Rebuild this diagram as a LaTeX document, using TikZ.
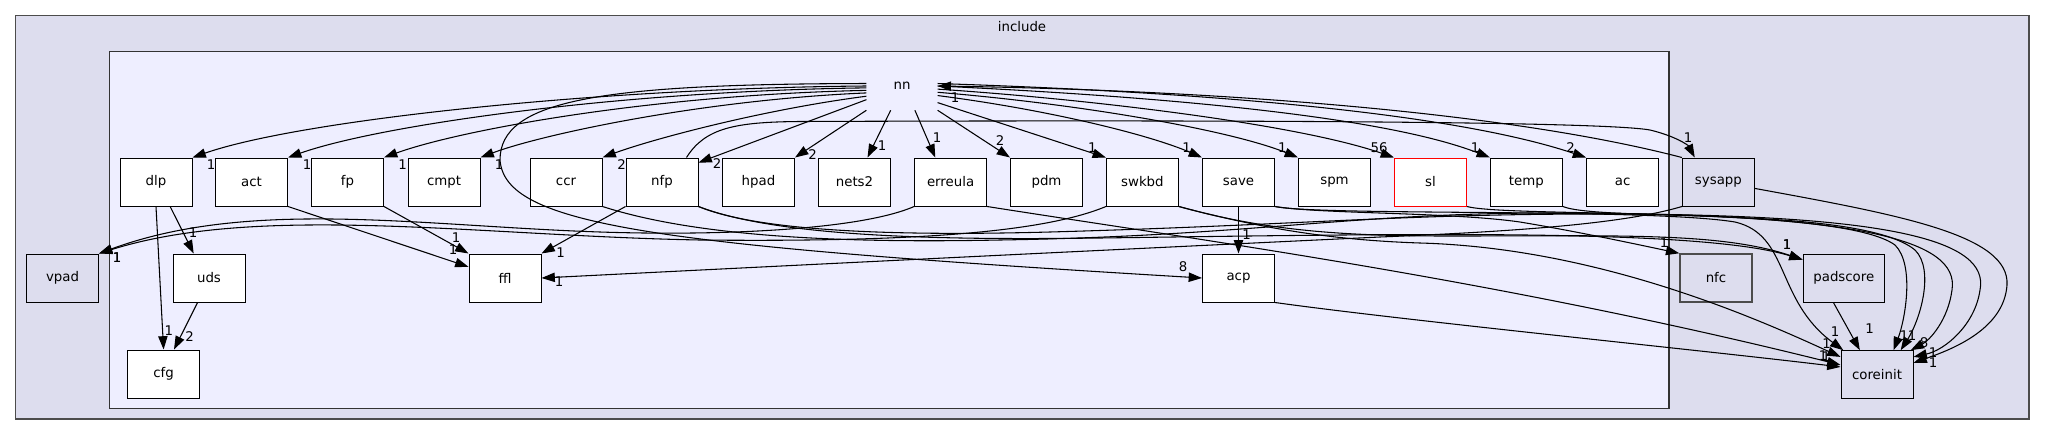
\documentclass[tikz,border=0pt]{standalone}
\usepackage{fontspec}
\setmainfont{DejaVu Sans}
\usepackage{xcolor}
\usetikzlibrary{arrows.meta}
\definecolor{outerfill}{HTML}{DDDDEE}
\definecolor{innerfill}{HTML}{EEEEFF}

\begin{document}
\begin{tikzpicture}[x=0.75pt, y=-0.75pt,
    dnode/.style={draw, fill=white, line width=0.75pt, minimum width=54pt, minimum height=36pt, inner sep=0pt, font=\fontsize{10}{12}\selectfont},
    xnode/.style={dnode, fill=outerfill},
    dep/.style={-{Triangle[length=10pt, width=7pt]}, line width=0.8pt},
    lbl/.style={inner sep=0pt, font=\fontsize{10}{12}\selectfont}
]
\useasboundingbox (0,0) rectangle (2045,436);
% clusters
\draw[fill=outerfill, draw=black!70, line width=1pt] (15.6,15.7) rectangle (2029,419);
\node[lbl] at (1022,27) {include};
\draw[fill=innerfill, draw=black!80, line width=1pt] (109.4,51.7) rectangle (1669,408.7);
\node[lbl, minimum width=53pt, minimum height=36pt] (nn) at (902,86) {nn};

\node[dnode] (dlp) at (156,182) {dlp};
\node[dnode] (act) at (251.5,182) {act};
\node[dnode] (fp) at (347.5,182) {fp};
\node[dnode] (cmpt) at (444,182) {cmpt};
\node[dnode] (ccr) at (566,182) {ccr};
\node[dnode] (nfp) at (662,182) {nfp};
\node[dnode] (hpad) at (758.5,182) {hpad};
\node[dnode] (nets2) at (854.5,182) {nets2};
\node[dnode] (erreula) at (950.6,182) {erreula};
\node[dnode] (pdm) at (1046.5,182) {pdm};
\node[dnode] (swkbd) at (1142.4,182) {swkbd};
\node[dnode] (save) at (1238.5,182) {save};
\node[dnode] (spm) at (1334.5,182) {spm};
\node[dnode, draw=red] (sl) at (1430.5,182) {sl};
\node[dnode] (temp) at (1526.4,182) {temp};
\node[dnode] (ac) at (1622.6,182) {ac};
\node[xnode] (sysapp) at (1718.4,182) {sysapp};

\node[xnode] (vpad) at (62.5,278) {vpad};
\node[dnode] (uds) at (209,278) {uds};
\node[dnode] (ffl) at (505,278) {ffl};
\node[dnode] (acp) at (1238.5,278) {acp};
\node[xnode, draw=black!70, line width=1.1pt] (nfc) at (1716,278) {nfc};
\node[xnode, minimum width=61pt] (padscore) at (1843.8,278) {padscore};

\node[dnode] (cfg) at (163.6,374) {cfg};
\node[xnode] (coreinit) at (1877,374.7) {coreinit};

% nn to its subdirectories
\draw[dep] (nn.180) .. controls (600,88) and (300,120) .. (dlp.north east) node[lbl] at (211,165) {1};
\draw[dep] (nn.183) .. controls (620,91) and (380,125) .. (act.north east) node[lbl] at (307,165) {1};
\draw[dep] (nn.187) .. controls (650,95) and (460,130) .. (fp.north east) node[lbl] at (402.6,165) {1};
\draw[dep] (nn.191) .. controls (700,100) and (540,135) .. (cmpt.north east) node[lbl] at (499,165) {1};
\draw[dep] (nn.196) .. controls (760,110) and (650,140) .. (ccr.north east) node[lbl] at (621.5,165) {2};
\draw[dep] (nn.201) -- (nfp.28) node[lbl] at (717,164) {2};
\draw[dep] (nn.south west) -- (hpad.north east) node[lbl] at (812.6,155) {2};
\draw[dep] (nn.-115) -- (nets2.62) node[lbl] at (882,146) {1};
\draw[dep] (nn.-62) -- (erreula.122) node[lbl] at (937,137.7) {1};
\draw[dep] (nn.south east) -- (pdm.north west) node[lbl] at (1000,140.7) {2};
\draw[dep] (nn.-25) -- (swkbd.north west) node[lbl] at (1092.4,147.7) {1};
\draw[dep] (nn.-15) .. controls (1050,110) and (1150,135) .. (save.north west) node[lbl] at (1186.7,148) {1};
\draw[dep] (nn.-10) .. controls (1080,104) and (1230,130) .. (spm.north west) node[lbl] at (1282.3,148) {1};
\draw[dep] (nn.-5) .. controls (1100,100) and (1300,125) .. (sl.north west) node[lbl] at (1379,148) {56};
\draw[dep] (nn.0) .. controls (1150,96) and (1380,115) .. (temp.north west) node[lbl] at (1475,148) {1};
\draw[dep] (nn.4) .. controls (1200,92) and (1450,112) .. (ac.north west) node[lbl] at (1570.7,148) {2};
\draw[dep] (nn.176) .. controls (600,84) and (500,100) .. (500,160) .. controls (505,225) and (650,245) .. (acp.west) node[lbl] at (1183,266.7) {8};
\draw[dep] (sysapp.north west) .. controls (1500,110) and (1200,90) .. (nn.east) node[lbl] at (955,98) {1};
\draw[dep] (nfp.45) .. controls (705,128) and (735,122) .. (800,121.5) .. controls (1200,120) and (1600,121) .. (1650,130) .. controls (1675,136) and (1688,145) .. (sysapp.134) node[lbl] at (1688,138) {1};

% lower dependencies
\draw[dep] (dlp.-60) -- (uds.122) node[lbl] at (193,233) {1};
\draw[dep] (dlp.south) -- (cfg.north) node[lbl] at (168.75,330.7) {1};
\draw[dep] (uds.-115) -- (cfg.67) node[lbl] at (189.7,336.7) {2};
\draw[dep] (act.south east) -- (ffl.163) node[lbl] at (453,250) {1};
\draw[dep] (fp.south east) -- (ffl.north west) node[lbl] at (456,238) {1};
\draw[dep] (nfp.south west) -- (ffl.north east) node[lbl] at (560.7,252.7) {1};
\draw[dep] (sysapp.south west) .. controls (1620,225) and (1500,232) .. (1380,237) .. controls (1000,255) and (700,270) .. (ffl.east) node[lbl] at (559,282) {1};
\draw[dep] (save.south) -- (acp.north) node[lbl] at (1246.7,235) {1};
\draw[dep] (erreula.south west) .. controls (860,230) and (720,236) .. (600,232) .. controls (420,226) and (250,198) .. (vpad.north east) node[lbl] at (117,258) {1};
\draw[dep] (swkbd.south west) .. controls (1040,234) and (900,242) .. (700,240) .. controls (480,236) and (260,203) .. (vpad.north east) node[lbl] at (117,258) {1};
\draw[dep] (save.south east) .. controls (1320,214) and (1450,212) .. (1520,222) .. controls (1580,232) and (1640,245) .. (nfc.north west) node[lbl] at (1664,243) {1};
\draw[dep] (nfp.south east) .. controls (780,238) and (950,240) .. (1100,238) .. controls (1400,234) and (1700,228) .. (padscore.156) node[lbl] at (1787,245) {1};
\draw[dep] (swkbd.south east) .. controls (1270,232) and (1350,236) .. (1450,236) .. controls (1620,236) and (1720,232) .. (padscore.156) node[lbl] at (1787,245) {1};

% into coreinit
\draw[dep] (padscore.-113) -- (coreinit.125) node[lbl] at (1869.5,329) {1};
\draw[dep] (swkbd.south east) .. controls (1260,228) and (1330,240) .. (1420,243) .. controls (1600,248) and (1760,320) .. (coreinit.154) node[lbl] at (1826.5,344) {1};
\draw[dep] (acp.south east) .. controls (1400,320) and (1700,350) .. (coreinit.168) node[lbl] at (1823,356) {1};
\draw[dep] (erreula.south east) .. controls (1200,240) and (1500,280) .. (coreinit.165) node[lbl] at (1826,357) {1};
\draw[dep] (save.south east) .. controls (1320,216) and (1650,208) .. (1735,222) .. controls (1790,235) and (1775,300) .. (coreinit.144) node[lbl] at (1835,331.7) {1};
\draw[dep] (sl.south east) .. controls (1510,218) and (1840,205) .. (1895,245) .. controls (1915,265) and (1905,320) .. (coreinit.56) node[lbl] at (1904,336) {1};
\draw[dep] (temp.south east) .. controls (1600,222) and (1860,205) .. (1915,250) .. controls (1935,270) and (1920,320) .. (coreinit.46) node[lbl] at (1912,336) {1};
\draw[dep] (ccr.south east) .. controls (700,238) and (850,243) .. (1000,240) .. controls (1250,236) and (1350,213) .. (1550,213) .. controls (1860,213) and (1960,240) .. (1952,290) .. controls (1948,320) and (1930,340) .. (coreinit.36) node[lbl] at (1924,343) {8};
\draw[dep] (nfp.south east) .. controls (760,232) and (900,236) .. (1050,232) .. controls (1300,225) and (1400,214) .. (1600,214) .. controls (1890,214) and (1990,240) .. (1980,290) .. controls (1975,325) and (1945,350) .. (coreinit.26) node[lbl] at (1933,353) {1};
\draw[dep] (sysapp.-10) .. controls (1900,215) and (2010,235) .. (2007,285) .. controls (2004,330) and (1950,350) .. (coreinit.18) node[lbl] at (1933,363) {1};
\end{tikzpicture}
\end{document}
